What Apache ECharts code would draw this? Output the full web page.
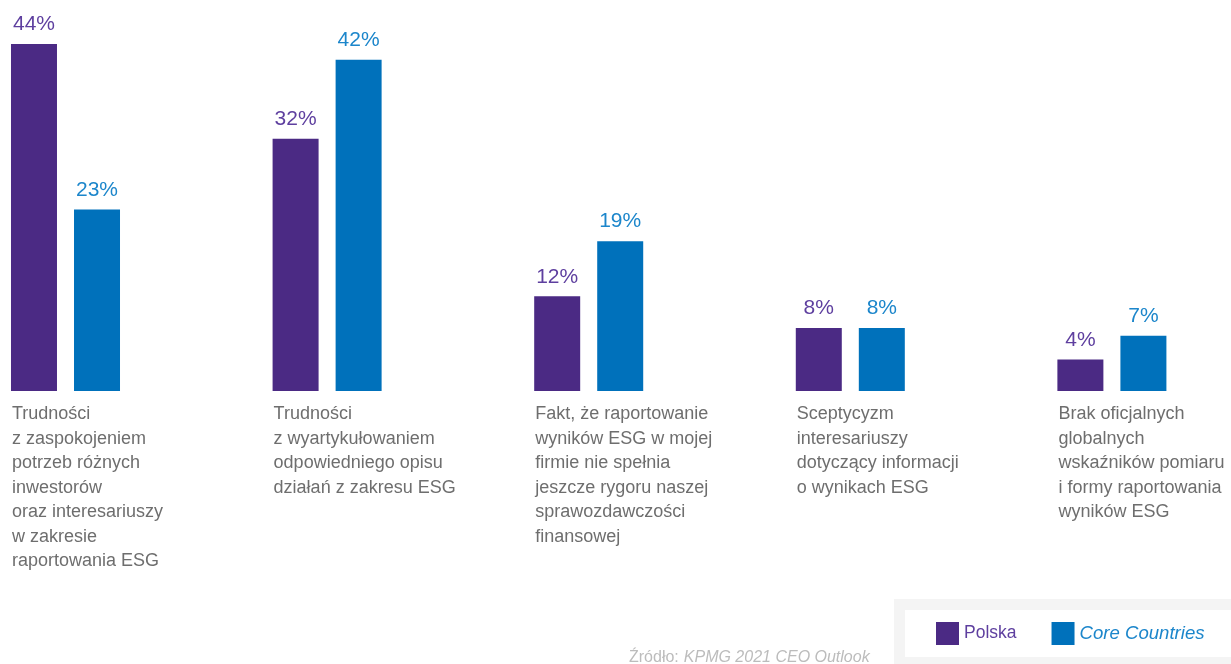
<!DOCTYPE html>
<html>
<head>
<meta charset="utf-8">
<script src="https://cdn.jsdelivr.net/npm/echarts@6/dist/echarts.min.js"></script>
<style>
  html, body { margin: 0; padding: 0; background: #fff; }
  #chart { width: 1231px; height: 664px; }
</style>
</head>
<body>
<div id="chart"></div>
<script>
// Bariery w raportowaniu ESG – odsetek wskazań
const categories = [
  'Trudności\nz zaspokojeniem\npotrzeb różnych\ninwestorów\noraz interesariuszy\nw zakresie\nraportowania ESG',
  'Trudności\nz wyartykułowaniem\nodpowiedniego opisu\ndziałań z zakresu ESG',
  'Fakt, że raportowanie\nwyników ESG w mojej\nfirmie nie spełnia\njeszcze rygoru naszej\nsprawozdawczości\nfinansowej',
  'Sceptycyzm\ninteresariuszy\ndotyczący informacji\no wynikach ESG',
  'Brak oficjalnych\nglobalnych\nwskaźników pomiaru\ni formy raportowania\nwyników ESG'
];
const seriesNames = ['Polska', 'Core Countries'];
const polska = [44, 32, 12, 8, 4];
const coreCountries = [23, 42, 19, 8, 7];
const sourceLabel = 'Źródło:';
const sourceName = 'KPMG 2021 CEO Outlook';

const PURPLE = '#4b2a84';
const PURPLE_TEXT = '#5e3f9f';
const BLUE = '#0071bb';
const BLUE_TEXT = '#1c86cb';
const FONT = '"Liberation Sans", Arial, sans-serif';

const chart = echarts.init(document.getElementById('chart'), null, { renderer: 'canvas' });

// Shared plot geometry: each category band is ~261.6 px wide.
const bandWidth = 261.6;
const gridWidth = bandWidth * categories.length;
const groupHalf = 54;  // half of two bars plus the gap between them

function valueLabel(color) {
  return {
    show: true,
    position: 'top',
    distance: 9,
    formatter: '{c}%',
    color: color,
    fontFamily: FONT,
    fontSize: 21
  };
}

chart.setOption({
  animation: false,
  backgroundColor: '#ffffff',
  textStyle: { fontFamily: FONT },
  title: {
    left: 629,
    top: 648.5,
    padding: 0,
    text: '{a|' + sourceLabel + '} {b|' + sourceName + '}',
    textStyle: {
      fontWeight: 'normal',
      rich: {
        a: { color: '#bcbcbc', fontSize: 16, fontFamily: FONT, fontWeight: 'normal' },
        b: { color: '#bcbcbc', fontSize: 16, fontFamily: FONT, fontWeight: 'normal', fontStyle: 'italic' }
      }
    }
  },
  legend: {
    left: 899.5,
    top: 604.5,
    width: 300,
    padding: [17.5, 45, 17.5, 36.5],
    backgroundColor: '#ffffff',
    borderColor: '#f4f4f4',
    borderWidth: 11,
    icon: 'rect',
    itemWidth: 23,
    itemHeight: 23,
    itemGap: 35,
    selectedMode: false,
    data: [
      { name: seriesNames[0], textStyle: { color: PURPLE_TEXT, fontSize: 17.5, fontFamily: FONT } },
      { name: seriesNames[1], textStyle: { color: BLUE_TEXT, fontSize: 18.6, fontFamily: FONT, fontStyle: 'italic' } }
    ]
  },
  grid: [
    // bars
    { left: 65.5 - bandWidth / 2, width: gridWidth, top: -3.3, bottom: 273, outerBoundsMode: 'none', containLabel: false },
    // category captions, shifted so that each caption starts at its group's left edge
    { left: 66 - groupHalf - bandWidth / 2, width: gridWidth, top: -3.3, bottom: 273, outerBoundsMode: 'none', containLabel: false }
  ],
  xAxis: [
    {
      gridIndex: 0,
      type: 'category',
      data: categories,
      axisLine: { show: false },
      axisTick: { show: false },
      axisLabel: { show: false },
      splitLine: { show: false }
    },
    {
      gridIndex: 1,
      type: 'category',
      data: categories,
      axisLine: { show: false },
      axisTick: { show: false },
      splitLine: { show: false },
      axisLabel: {
        show: true,
        interval: 0,
        hideOverlap: false,
        align: 'left',
        verticalAlign: 'top',
        margin: 11,
        color: '#6e6e6e',
        fontFamily: FONT,
        fontSize: 18,
        lineHeight: 24.5
      }
    }
  ],
  yAxis: [
    { gridIndex: 0, type: 'value', min: 0, max: 50, show: false },
    { gridIndex: 1, type: 'value', min: 0, max: 50, show: false }
  ],
  series: [
    {
      name: seriesNames[0],
      type: 'bar',
      xAxisIndex: 0,
      yAxisIndex: 0,
      data: polska,
      barWidth: 46,
      barGap: '37%',
      itemStyle: { color: PURPLE },
      label: valueLabel(PURPLE_TEXT)
    },
    {
      name: seriesNames[1],
      type: 'bar',
      xAxisIndex: 0,
      yAxisIndex: 0,
      data: coreCountries,
      barWidth: 46,
      barGap: '37%',
      itemStyle: { color: BLUE },
      label: valueLabel(BLUE_TEXT)
    }
  ]
});
</script>
</body>
</html>
